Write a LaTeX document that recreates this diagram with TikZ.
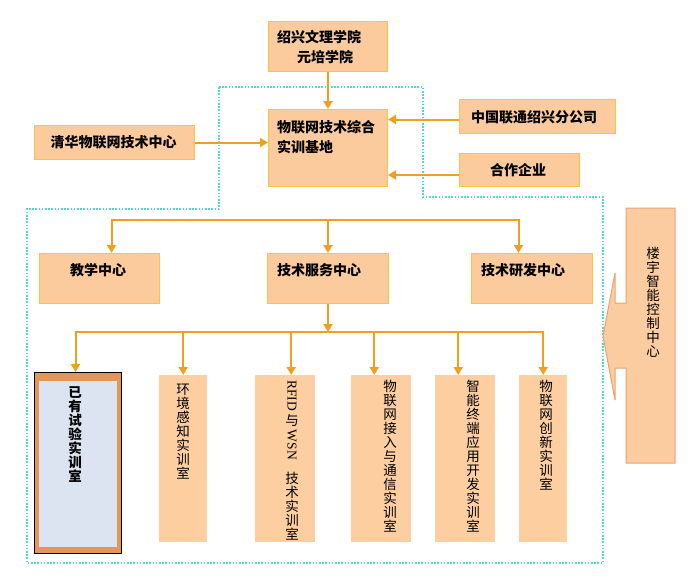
\documentclass[tikz,border=0pt]{standalone}
\usepackage{fontspec}
\setmainfont{Noto Sans CJK SC}
\newfontfamily\latinserif{Liberation Serif}
\usetikzlibrary{arrows.meta}
\definecolor{boxfill}{RGB}{251,203,157}
\definecolor{boxline}{RGB}{246,196,70}
\definecolor{labfill}{RGB}{252,206,160}
\definecolor{arrowc}{RGB}{240,160,30}
\definecolor{yyout}{RGB}{228,150,90}
\definecolor{yyin}{RGB}{219,228,240}
\definecolor{dotc}{RGB}{80,215,215}
\definecolor{callfill}{RGB}{251,204,160}
\definecolor{callline}{RGB}{240,160,110}
\newcommand{\vlatin}[1]{\raisebox{\depth}{\rotatebox{-90}{\latinserif #1}}}
\begin{document}
\begin{tikzpicture}[x=1pt,y=-1pt,
  box/.style={draw=boxline, fill=boxfill, line width=1pt, inner sep=0pt, anchor=north west},
  labbox/.style={fill=labfill, inner sep=0pt, anchor=north west},
  head/.style={inner sep=0pt, font=\fontsize{14}{16}\selectfont\bfseries},
  vtext/.style={inner sep=0pt, anchor=north, align=center, font=\fontsize{13.5}{14}\selectfont},
  arr/.style={draw=arrowc, line width=2pt, -{Triangle[width=9pt,length=8pt]}},
  dotline/.style={draw=dotc, line width=1.6pt, dash pattern=on 1.6pt off 1.6pt}
]
\useasboundingbox (0,0) rectangle (690,582);

% dotted region
\draw[dotline] (219,87) -- (423,87) -- (423,197) -- (603,197) -- (603,563) -- (27,563) -- (27,209) -- (219,209) -- cycle;

% top boxes
\node[box, minimum width=119pt, minimum height=50pt] (sx) at (268,21) {};
\node[box, minimum width=119pt, minimum height=77pt] (main) at (268,109) {};
\node[box, minimum width=160pt, minimum height=34pt] (qh) at (34,125) {};
\node[box, minimum width=156pt, minimum height=34pt] (lt) at (459,99) {};
\node[box, minimum width=120pt, minimum height=33pt] (hz) at (459,153) {};

\node[head, anchor=west] (sxt1) at (277,37) {绍兴文理学院};
\node[head, anchor=west] (sxt2) at (297,57) {元培学院};
\node[head, anchor=west] (mt1) at (277,127) {物联网技术综合};
\node[head, anchor=west] (mt2) at (277,147) {实训基地};
\node[head] (qht) at (113.5,142) {清华物联网技术中心};
\node[head] (ltt) at (534,117) {中国联通绍兴分公司};
\node[head] (hzt) at (518,170) {合作企业};

% second level
\node[box, minimum width=120pt, minimum height=50pt] (jx) at (39,253) {};
\node[box, minimum width=121pt, minimum height=50pt] (jf) at (267,253) {};
\node[box, minimum width=121pt, minimum height=50pt] (yf) at (471,253) {};
\node[head] (jxt) at (98,270) {教学中心};
\node[head, anchor=west] (jft) at (277,270) {技术服务中心};
\node[head, anchor=west] (yft) at (481,270) {技术研发中心};

% labs
\node[draw=black, line width=1pt, fill=yyout, inner sep=0pt, anchor=north west, minimum width=87pt, minimum height=181pt] (yy) at (34,372) {};
\node[fill=yyin, inner sep=0pt, anchor=north west, minimum width=78pt, minimum height=166pt] (yyi) at (39,381) {};
\node[labbox, minimum width=48pt, minimum height=167pt] (hj) at (159,375) {};
\node[labbox, minimum width=60pt, minimum height=167pt] (rf) at (255,375) {};
\node[labbox, minimum width=60pt, minimum height=167pt] (jr) at (351,375) {};
\node[labbox, minimum width=60pt, minimum height=167pt] (zn) at (435,375) {};
\node[labbox, minimum width=48pt, minimum height=167pt] (cx) at (519,375) {};

\node[vtext, font=\fontsize{13.5}{14}\selectfont\bfseries] (yyt) at (75,386) {已\\有\\试\\验\\实\\训\\室};
\node[vtext] (hjt) at (183,384) {环\\境\\感\\知\\实\\训\\室};
\node[vtext] (rft) at (292,380) {\vlatin{RFID}\\[1pt]与\\[2pt]\vlatin{WSN}\\[10pt]技\\术\\实\\训\\室};
\node[vtext] (jrt) at (390,380) {物\\联\\网\\接\\入\\与\\通\\信\\实\\训\\室};
\node[vtext] (znt) at (473,380) {智\\能\\终\\端\\应\\用\\开\\发\\实\\训\\室};
\node[vtext] (cxt) at (546,380) {物\\联\\网\\创\\新\\实\\训\\室};

% callout
\draw[fill=callfill, draw=callline, line width=1pt] (626,208) -- (675,208) -- (675,463) -- (626,463) -- (626,368) -- (615,368) -- (615,400) -- (603,336) -- (615,273) -- (615,303) -- (626,303) -- cycle;
\node[vtext] (lyt) at (653,247) {楼\\宇\\智\\能\\控\\制\\中\\心};

% connectors top
\draw[arr] (sx.south) -- (main.north);
\draw[arr] (qh.east) -- (qh.east -| main.west);
\draw[arr] ([yshift=-3pt]lt.west) -- ([yshift=-3pt]lt.west -| main.east);
\draw[arr] ([yshift=-5pt]hz.west) -- ([yshift=-5pt]hz.west -| main.east);

% tree 1
\path (jf.north) ++(0,-33) coordinate (b1);
\draw[arr] (b1) -| ([xshift=12pt]jx.north);
\draw[arr] (b1) -| ([xshift=-13.5pt]yf.north);
\draw[arr] (b1) -- (jf.north);

% tree 2
\path (jf.south) ++(0,28) coordinate (b2);
\draw[arr] (jf.south) -- (b2);
\draw[arr] (b2) -| ([xshift=-2.5pt]yy.north);
\draw[arr] (b2) -| (hj.north);
\draw[arr] (b2) -| ([xshift=6pt]rf.north);
\draw[arr] (b2) -| ([xshift=-7pt]jr.north);
\draw[arr] (b2) -| ([xshift=-7pt]zn.north);
\draw[arr] (b2) -| (cx.north);
\end{tikzpicture}
\end{document}
